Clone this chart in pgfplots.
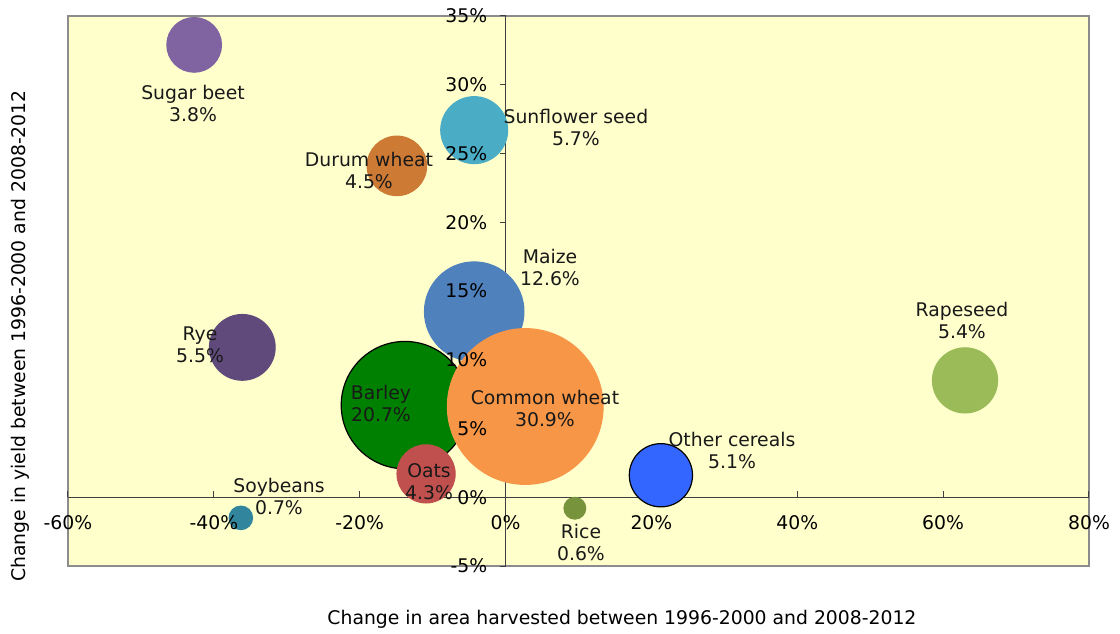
\documentclass[border=0pt]{standalone}
\usepackage{pgfplots}
\pgfplotsset{compat=1.18}
\usepackage{pgfplotstable}
\usepackage{fontspec}
\setmainfont{DejaVu Sans}

\definecolor{bg}{HTML}{FFFFCC}
\definecolor{csb}{HTML}{8064A2}
\definecolor{csf}{HTML}{4BACC6}
\definecolor{cdw}{HTML}{CD7A35}
\definecolor{cmz}{HTML}{4F81BD}
\definecolor{cry}{HTML}{604A7B}
\definecolor{cba}{HTML}{008000}
\definecolor{ccw}{HTML}{F79646}
\definecolor{coa}{HTML}{C0504D}
\definecolor{coc}{HTML}{3366FF}
\definecolor{crs}{HTML}{9BBB59}
\definecolor{cso}{HTML}{31859C}
\definecolor{cri}{HTML}{77933C}

% x = change in area (%), y = change in yield (%), s = share (%)
\pgfplotstableread{
x     y     s     c
-42.7 32.9  3.8   sb
-4.3  26.7  5.7   sf
-14.9 24.1  4.5   dw
-4.3  13.5  12.6  mz
-36.1 10.9  5.5   ry
-13.8 6.7   20.7  ba
2.7   6.6   30.9  cw
-10.9 1.7   4.3   oa
21.3  1.6   5.1   oc
63.0  8.5   5.4   rs
-36.3 -1.5  0.7   so
9.5   -0.8  0.6   ri
}\bubbles

\pgfplotsset{
  bubble frame/.style={
    scale only axis,
    width=510.5pt, height=275pt,
    xmin=-60, xmax=80, ymin=-5, ymax=35,
    axis lines=middle,
    hide obscured x ticks=false,
    hide obscured y ticks=false,
    xtick={-60,-40,...,80},
    ytick={-5,0,...,35},
    tick align=outside,
    major tick length=3pt,
  },
}

\begin{document}
\begin{tikzpicture}[font=\fontsize{9.4}{11}\selectfont]
% first axis: background, zero lines, ticks and the bubbles
\begin{axis}[
    bubble frame,
    axis line style={-, draw=black!75, line width=0.5pt},
    axis background/.style={fill=bg, draw=black!45, line width=0.8pt},
    xticklabels={}, yticklabels={},
    tick style={black!75, line width=0.5pt},
    xtick style={yshift=3pt},
]
\addplot[
    scatter, only marks, mark=*,
    scatter src=explicit symbolic,
    scatter/classes={
        sb={mark=*,csb},
        sf={mark=*,csf},
        dw={mark=*,cdw},
        mz={mark=*,cmz},
        ry={mark=*,cry},
        ba={mark=*,draw=black,fill=cba},
        cw={mark=*,ccw},
        oa={mark=*,coa},
        oc={mark=*,draw=black,fill=coc},
        rs={mark=*,crs},
        so={mark=*,cso},
        ri={mark=*,cri}},
    mark options={line width=0.6pt},
    visualization depends on={7*sqrt(\thisrow{s}) \as \rad},
    scatter/@pre marker code/.append style={/tikz/mark size=\rad pt},
] table[x=x, y=y, meta=c] {\bubbles};
\end{axis}
% second axis on top: tick labels, axis titles and bubble names
\begin{axis}[
    bubble frame,
    axis line style={draw=none},
    tick style={draw=none},
    xticklabels={-60\%,-40\%,-20\%,0\%,20\%,40\%,60\%,80\%},
    yticklabels={-5\%,0\%,5\%,10\%,15\%,20\%,25\%,30\%,35\%},
    xticklabel style={anchor=base, inner sep=0pt, yshift=-13.3pt},
    yticklabel style={anchor=east, inner sep=0pt, xshift=-6pt},
    xlabel={Change in area harvested between 1996-2000 and 2008-2012},
    ylabel={Change in yield between 1996-2000 and 2008-2012},
    xlabel style={at={(rel axis cs:0.5426,-0.0964)}, anchor=center},
    ylabel style={at={(rel axis cs:-0.047,0.418)}, anchor=center, rotate=90},
]
\begin{scope}[every node/.style={align=center, text=black!90}]
\node at (axis cs:-42.86,28.64) {Sugar beet\\3.8\%};
\node at (axis cs:9.65,26.9) {Sunflower seed\\5.7\%};
\node at (axis cs:-18.73,23.76) {Durum wheat\\4.5\%};
\node at (axis cs:6.09,16.69) {Maize\\12.6\%};
\node at (axis cs:-41.9,11.08) {Rye\\5.5\%};
\node at (axis cs:-17.08,6.85) {Barley\\20.7\%};
\node at (axis cs:5.40,6.49) {Common wheat\\30.9\%};
\node at (axis cs:-10.50,1.17) {Oats\\4.3\%};
\node at (axis cs:31.05,3.43) {Other cereals\\5.1\%};
\node at (axis cs:62.58,12.83) {Rapeseed\\5.4\%};
\node at (axis cs:-31.07,0.07) {Soybeans\\0.7\%};
\node at (axis cs:10.34,-3.28) {Rice\\0.6\%};
\end{scope}
\end{axis}
\pgfresetboundingbox
\useasboundingbox (-34pt,-33.5pt) rectangle (526pt,283pt);
\end{tikzpicture}
\end{document}
